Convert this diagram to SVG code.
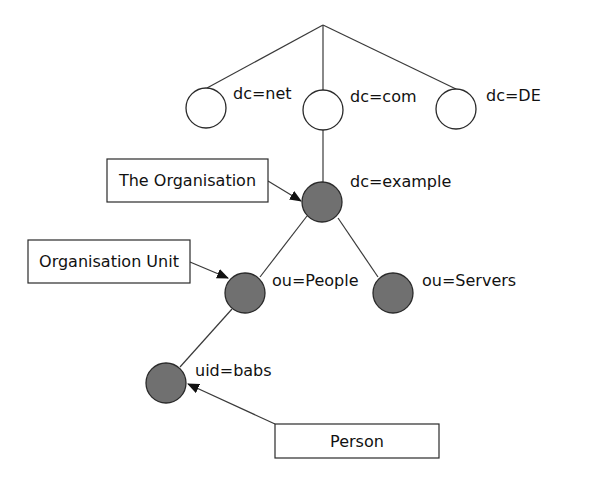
<svg xmlns="http://www.w3.org/2000/svg" width="597" height="477" viewBox="0 0 597 477">
<defs>
<style>
.edge{stroke:#3a3a3a;stroke-width:1.2;fill:none}
.open{fill:#ffffff;stroke:#2a2a2a;stroke-width:1.3}
.full{fill:#707070;stroke:#2a2a2a;stroke-width:1.3}
.box{fill:#ffffff;stroke:#2a2a2a;stroke-width:1.2}
text{font-family:"DejaVu Sans",sans-serif;font-size:16px;fill:#111}
</style>
<marker id="arr" markerWidth="12" markerHeight="10" refX="11" refY="5" orient="auto" markerUnits="userSpaceOnUse">
<path d="M0,0 L12,5 L0,10 z" fill="#111"/>
</marker>
</defs>
<rect width="597" height="477" fill="#ffffff"/>
<g id="connectors">
<line class="edge" x1="323" y1="25" x2="207" y2="88"/>
<line class="edge" x1="323" y1="25" x2="323" y2="90"/>
<line class="edge" x1="323" y1="25" x2="456" y2="89"/>
<line class="edge" x1="323" y1="130" x2="323" y2="182"/>
<line class="edge" x1="307" y1="216" x2="260" y2="277"/>
<line class="edge" x1="338" y1="218" x2="378" y2="277"/>
<line class="edge" x1="232" y1="309" x2="180" y2="367"/>
<line class="edge" x1="268" y1="181" x2="301" y2="201" marker-end="url(#arr)"/>
<line class="edge" x1="190" y1="262" x2="228" y2="278" marker-end="url(#arr)"/>
<line class="edge" x1="275" y1="424" x2="188" y2="384" marker-end="url(#arr)"/>
</g>
<g id="net"><circle class="open" cx="206" cy="108" r="20"/><text x="233" y="99">dc=net</text></g>
<g id="com"><circle class="open" cx="323" cy="110" r="20"/><text x="350" y="102">dc=com</text></g>
<g id="de"><circle class="open" cx="456" cy="109" r="20"/><text x="486" y="101">dc=DE</text></g>
<g id="example"><circle class="full" cx="322" cy="202" r="20"/><text x="350" y="187">dc=example</text></g>
<g id="people"><circle class="full" cx="245" cy="293" r="20"/><text x="272" y="286">ou=People</text></g>
<g id="servers"><circle class="full" cx="393" cy="293" r="20"/><text x="422" y="286">ou=Servers</text></g>
<g id="babs"><circle class="full" cx="166" cy="383" r="20"/><text x="195" y="376">uid=babs</text></g>
<g id="organisation"><rect class="box" x="107" y="159" width="161" height="43"/><text x="187.5" y="186" text-anchor="middle">The Organisation</text></g>
<g id="unit"><rect class="box" x="28" y="240" width="162" height="43"/><text x="109" y="267" text-anchor="middle">Organisation Unit</text></g>
<g id="person"><rect class="box" x="275" y="424" width="164" height="34"/><text x="357" y="447" text-anchor="middle">Person</text></g>
</svg>
